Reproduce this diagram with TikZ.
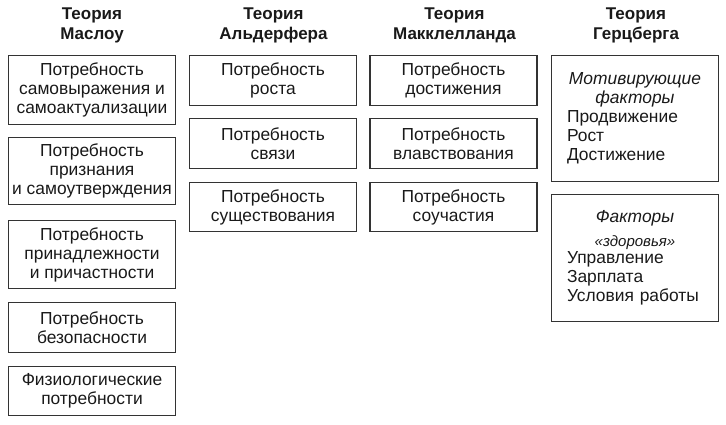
\documentclass[tikz,border=0pt]{standalone}
\usepackage{fontspec}
\setmainfont{Liberation Sans}
\begin{document}
\begin{tikzpicture}[x=1pt,y=-1pt,
		box/.style={draw=black!80,line width=1.5pt,minimum width=167pt,inner sep=0pt,align=center,
			text=black!90,font=\fontsize{17.4}{19}\selectfont},
		factbox/.style={box,align=left,text width=136pt,inner xsep=15.5pt},
		title/.style={align=center,text=black!90,font=\bfseries\fontsize{17}{20}\selectfont}]
	\useasboundingbox (0,0) rectangle (726,424);
	\node[title] (tMaslow) at (92,25) {Теория\\Маслоу};
	\node[title] (tAlderfer) at (273.5,25) {Теория\\Альдерфера};
	\node[title] (tMcClelland) at (454.5,25) {Теория\\Макклелланда};
	\node[title] (tHerzberg) at (636,25) {Теория\\Герцберга};
	\node[box,minimum height=69pt] (m1) at (92,90) {Потребность\\самовыражения и\\самоактуализации};
	\node[box,minimum height=67pt] (m2) at (92,171) {Потребность\\признания\\и самоутверждения};
	\node[box,minimum height=68pt] (m3) at (92,254.5) {Потребность\\принадлежности\\и причастности};
	\node[box,minimum height=50pt] (m4) at (92,327.5) {Потребность\\безопасности};
	\node[box,minimum height=49pt] (m5) at (92,391) {Физиологические\\потребности};
	\node[box,minimum height=50pt] (a1) at (273,80.5) {Потребность\\роста};
	\node[box,minimum height=50pt] (a2) at (273,143.5) {Потребность\\связи};
	\node[box,minimum height=49pt] (a3) at (273,207) {Потребность\\существования};
	\node[box,minimum height=50pt] (c1) at (453.5,80.5) {Потребность\\достижения};
	\node[box,minimum height=50pt] (c2) at (453.5,143.5) {Потребность\\влавствования};
	\node[box,minimum height=49pt] (c3) at (453.5,207) {Потребность\\соучастия};
	\node[factbox,minimum height=126pt] (h1) at (635,118.5)
		{\makebox[136pt]{\itshape Мотивирующие}\\\makebox[136pt]{\itshape факторы}\\Продвижение\\Рост\\Достижение};
	\node[factbox,minimum height=127pt] (h2) at (635,258)
		{\makebox[136pt]{\itshape Факторы}\\[5pt]\makebox[136pt]{\itshape\fontsize{15}{19}\selectfont «здоровья»}\\[-2pt]Управление\\Зарплата\\Условия работы};
\end{tikzpicture}
\end{document}
